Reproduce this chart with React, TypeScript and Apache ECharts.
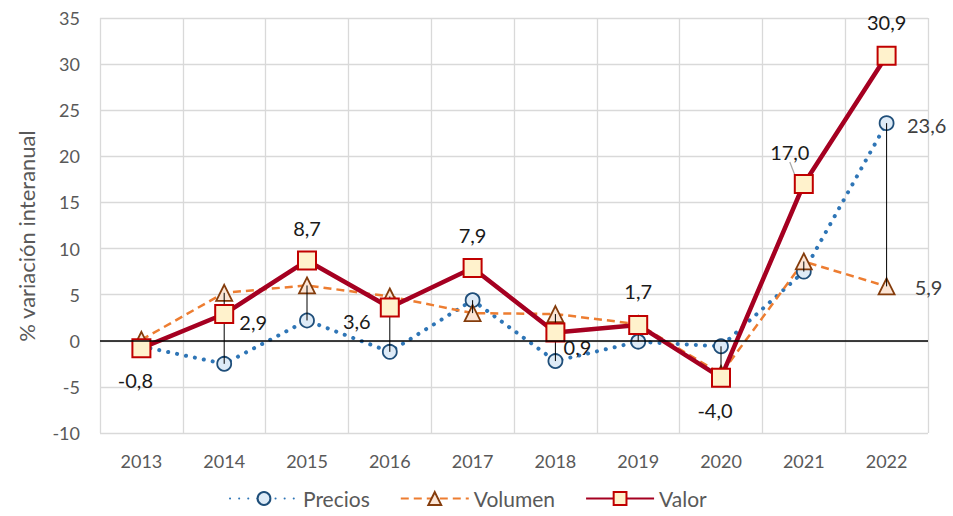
import React, { useEffect, useRef } from "react";
import * as echarts from "echarts";

const years = ["2013", "2014", "2015", "2016", "2017", "2018", "2019", "2020", "2021", "2022"];
const precios = [-0.6, -2.5, 2.2, -1.2, 4.4, -2.2, -0.1, -0.6, 7.5, 23.6];
const volumen = [0.1, 5.2, 6.0, 4.8, 3.0, 2.9, 1.8, -3.6, 8.6, 5.9];
const valor = [-0.8, 2.9, 8.7, 3.6, 7.9, 0.9, 1.7, -4.0, 17.0, 30.9];
const yTicks = { min: -10, max: 35, interval: 5 };

// label shifts from marker centre (style only)
const valorShift: number[][] = [
  [-6, 32], [29, 8], [0, -33], [-33, 13], [0, -33], [22, 15], [0, -34], [-6, 32], [-14, -32], [0, -34],
];
const leaderIndex = 8;

const fmt = (v: number) => v.toFixed(1).replace(".", ",");
const FONT = "Lato, 'Open Sans', sans-serif";

export default function App() {
  const ref = useRef<HTMLDivElement>(null);
  useEffect(() => {
    if (!ref.current) return;
    const chart = echarts.init(ref.current, undefined, { renderer: "svg" });
    const hiLow = years.map((_, i) => [i, Math.max(precios[i], volumen[i]), Math.min(precios[i], volumen[i])]);
    const last = years.length - 1;
    chart.setOption({
      animation: false,
      textStyle: { fontFamily: FONT },
      grid: { left: 100, right: 25, top: 18, bottom: 83 },
      legend: {
        bottom: 2,
        left: 224,
        itemWidth: 68,
        itemHeight: 16,
        itemGap: 30,
        textStyle: { fontSize: 21, color: "#595959", fontFamily: FONT },
        data: ["Precios", "Volumen", "Valor"],
      },
      graphic: [
        {
          type: "text",
          x: 26,
          y: 236,
          rotation: Math.PI / 2,
          style: {
            text: "% variación interanual",
            fill: "#595959",
            font: `22px ${FONT}`,
            align: "center",
            verticalAlign: "middle",
          },
        },
      ],
      xAxis: {
        type: "category",
        data: years,
        boundaryGap: true,
        axisLine: { show: false },
        axisTick: { show: false },
        axisLabel: { color: "#595959", fontSize: 18, margin: 19, fontFamily: FONT },
        splitLine: { show: true, lineStyle: { color: "#D9D9D9", width: 1.3 } },
      },
      yAxis: {
        type: "value",
        min: yTicks.min,
        max: yTicks.max,
        interval: yTicks.interval,
        axisLine: { show: false },
        axisTick: { show: false },
        axisLabel: { color: "#595959", fontSize: 18, margin: 20, fontFamily: FONT },
        splitLine: { show: true, lineStyle: { color: "#D9D9D9", width: 1.3 } },
      },
      series: [
        {
          name: "Precios",
          type: "line",
          z: 2,
          data: precios.map((v, i) =>
            i === last
              ? { value: v, label: { show: true, position: "inside", offset: [40, 2], color: "#404040", fontSize: 20, formatter: (p: any) => fmt(p.value) } }
              : v
          ),
          symbol: "circle",
          symbolSize: 14,
          itemStyle: { color: "#DEEBF7", borderColor: "#1F4E79", borderWidth: 1.8 },
          lineStyle: { color: "#2E75B6", width: 4, type: [0.1, 9], cap: "round" },
          markLine: {
            silent: true,
            symbol: "none",
            label: { show: false },
            lineStyle: { color: "#000", width: 1.5, type: "solid" },
            data: [{ yAxis: 0 }],
          },
        },
        {
          name: "Volumen",
          type: "line",
          z: 2,
          data: volumen.map((v, i) =>
            i === last
              ? { value: v, label: { show: true, position: "inside", offset: [42, 1], color: "#404040", fontSize: 20, formatter: (p: any) => fmt(p.value) } }
              : v
          ),
          symbol: "triangle",
          symbolSize: 16,
          itemStyle: { color: "#FBE5D6", borderColor: "#843C0C", borderWidth: 1.8 },
          lineStyle: { color: "#ED7D31", width: 2.5, type: [8, 5] },
        },
        {
          name: "hilow",
          type: "custom",
          z: 3,
          silent: true,
          data: hiLow,
          encode: { x: 0, y: [1, 2] },
          renderItem: (_params: any, api: any) => {
            const p1 = api.coord([api.value(0), api.value(1)]);
            const p2 = api.coord([api.value(0), api.value(2)]);
            return {
              type: "line",
              shape: { x1: p1[0], y1: p1[1], x2: p2[0], y2: p2[1] },
              style: { stroke: "#000", lineWidth: 1 },
            };
          },
        },
        {
          name: "Valor",
          type: "line",
          z: 4,
          data: valor.map((v, i) =>
            i === leaderIndex
              ? { value: v, labelLine: { show: true, lineStyle: { color: "#A6A6A6", width: 1.2 } } }
              : v
          ),
          labelLayout: (params: any) => {
            const s = valorShift[params.dataIndex] || [0, 0];
            return { dx: s[0], dy: s[1] };
          },
          symbol: "rect",
          symbolSize: 18,
          itemStyle: { color: "#FFF2CC", borderColor: "#C00000", borderWidth: 2 },
          lineStyle: { color: "#A50021", width: 4.5 },
          label: {
            show: true,
            position: "inside",
            color: "#1a1a1a",
            fontSize: 20,
            formatter: (p: any) => fmt(p.value),
          },
        },
      ],
    });
    return () => chart.dispose();
  }, []);
  return <div ref={ref} style={{ width: 953, height: 516, position: "absolute", left: 0, top: 0 }} />;
}
